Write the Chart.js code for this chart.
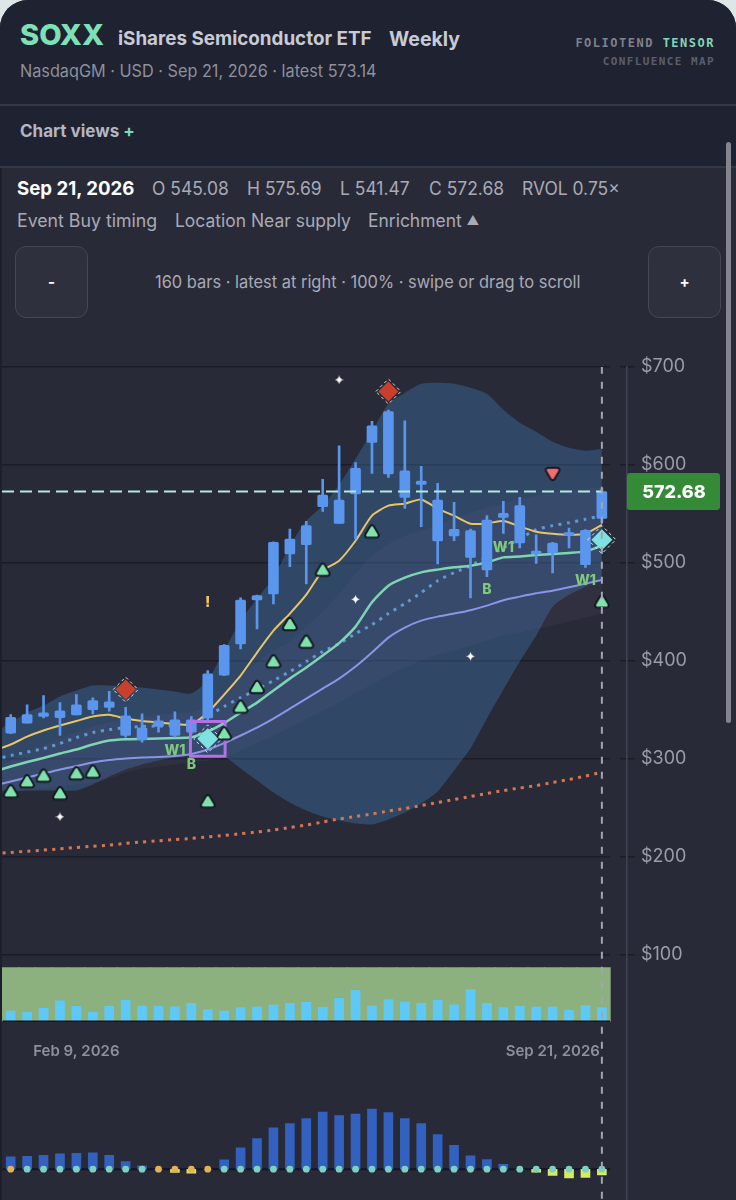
<!DOCTYPE html>
<html>
<head>
<meta charset="utf-8">
<title>SOXX Weekly</title>
<script src="https://cdn.jsdelivr.net/npm/chart.js@4/dist/chart.umd.min.js"></script>
<style>
  html, body { margin: 0; padding: 0; background: #dfe6e6; }
  #page { position: relative; width: 736px; height: 1200px; overflow: hidden; background: #282a38; border-radius: 28px 28px 0 0; font-family: Inter, sans-serif; }
  #top { position: absolute; left: 0; top: 0; width: 736px; height: 167px; background: #1f2230; }
  #edge { position: absolute; left: 0; top: 167px; width: 2px; height: 1033px; background: #1d1f2b; }
  .rule { position: absolute; left: 0; width: 736px; height: 2px; background: #33374a; }
  .t { position: absolute; white-space: nowrap; transform-origin: left center; }
  .mono { font-family: "DejaVu Sans Mono", monospace; font-weight: 700; text-align: right; right: 21px; }
  .stat { font-size: 18px; color: #a8aab6; top: 178px; transform: scaleX(.97); }
  .btn { position: absolute; top: 246px; width: 73px; height: 72px; box-sizing: border-box; background: #2e303e; border: 1.5px solid #454754; border-radius: 11px; color: #fff; font-weight: 700; font-size: 15px; line-height: 70px; text-align: center; }
  #scrollbar { position: absolute; left: 726px; top: 142px; width: 5px; height: 581px; border-radius: 3px; background: #83848f; }
  canvas { position: absolute; left: 0; top: 350px; }
</style>
</head>
<body>
<div id="page">
  <div id="top"></div>
  <div id="edge"></div>
  <div class="rule" style="top:104px"></div>
  <div class="rule" style="top:166px"></div>
  <span class="t" style="left:20px;top:17px;font-size:29px;font-weight:800;color:#7fe0b8">SOXX</span>
  <span class="t" style="left:118px;top:27px;font-size:19px;font-weight:700;color:#c8cad4;transform:scaleX(.99)">iShares Semiconductor ETF</span>
  <span class="t" style="left:389px;top:27px;font-size:19.5px;font-weight:700;color:#c8cad4">Weekly</span>
  <span class="t" style="left:20px;top:61px;font-size:17px;color:#8e909c;transform:scaleX(.955)">NasdaqGM · USD · Sep 21, 2026 · latest 573.14</span>
  <span class="t mono" style="top:36px;font-size:12px;letter-spacing:1.5px;color:#7f818d">FOLIOTEND <span style="color:#7fd8b8">TENSOR</span></span>
  <span class="t mono" style="top:55px;font-size:11px;letter-spacing:1.4px;color:#5c5e6c">CONFLUENCE MAP</span>
  <span class="t" style="left:20px;top:121px;font-size:17px;font-weight:700;color:#b4b6c2">Chart views <span style="color:#7fd8b8">+</span></span>
  <span class="t" style="left:17px;top:177px;font-size:19px;font-weight:700;color:#fff;transform:scaleX(.98)">Sep 21, 2026</span>
  <span class="t stat" style="left:152px">O 545.08</span>
  <span class="t stat" style="left:247px">H 575.69</span>
  <span class="t stat" style="left:340px">L 541.47</span>
  <span class="t stat" style="left:429px">C 572.68</span>
  <span class="t stat" style="left:522px">RVOL 0.75×</span>
  <span class="t stat" style="left:17px;top:210px;transform:scaleX(.985)">Event Buy timing</span>
  <span class="t stat" style="left:175px;top:210px">Location Near supply</span>
  <span class="t stat" style="left:368px;top:210px">Enrichment <span style="font-size:13px;position:relative;top:-2px">▲</span></span>
  <div class="btn" style="left:15px">-</div>
  <div class="btn" style="left:648px">+</div>
  <span class="t" style="left:155px;top:272px;font-size:17px;color:#a8aab6;transform:scaleX(.966)">160 bars · latest at right · 100% · swipe or drag to scroll</span>
  <div id="scrollbar"></div>
  <canvas id="myChart" width="736" height="867"></canvas>
</div>

<script>
// velas semanales
const opens = [325.8,336,342.9,341.8,344.6,350,352.3,323.5,319.1,332.7,323.5,326.8,341.5,385,417,461.9,468.1,508.9,518.4,557.1,540.1,570.1,622.8,590.5,566.6,579.9,522.1,527.2,505.4,492.6,546.2,520.1,508.9,509.9,527.6,498,545.08];
const closes = [342.1,344.9,346.6,348.7,354.8,359.2,357.9,343.6,331.3,338.5,339.5,339.5,386.4,415.6,461.9,466.3,520.7,524.2,537.8,569.1,564,596.2,639.8,654.4,593.9,583.4,564,534,532.7,543.6,550.3,558.2,511.9,520.1,530.6,533,572.68];
const highs = [344.9,354.8,364.3,357.1,365.3,361.9,368.7,352.3,345.6,343.6,347.7,342.9,389.8,416.3,464,467,521.4,534.4,542.1,585,619.4,602.3,644.2,655.8,644.9,598.3,580.9,561.5,534.4,548,562.6,566.6,528.3,520.7,535.4,533.7,575.69];
const lows = [325.5,336,341.5,323.5,344.6,345.6,348.3,321.7,316.6,326.8,321.7,325.5,338.8,384.7,411.9,432.3,457.9,495.9,478.3,552.3,540.1,524.2,591.1,587,555.4,536.7,498.7,522.4,464,485.7,529.9,515,499.3,489.5,515,495.2,541.47];

// lineas: el primer valor es la semana anterior a la primera vela, queda cortada por el borde
const fastLine = [308.2,314.3,322.4,328.6,333.7,338.3,342.9,344.6,340.8,338.3,336.7,335.2,334.7,346.9,365.3,384.7,408.2,430.6,448,467.3,491.8,502,522.4,548,558.2,560.2,564.6,555.1,548,539.8,540.1,542.6,537,531.6,529.6,528.6,529.6,538.5];
const midLine = [286.7,291.8,296.4,300.5,305.1,309.2,314.3,318.4,319.7,320.1,320.4,320.9,321.7,327.6,336.2,346.9,357.1,369.4,381.6,392.9,405.1,417.9,434.7,459.5,476.5,484.7,490.1,492.9,495.2,496.9,500.3,505.4,506.4,507.9,508.9,509.9,511.5,517.3];
const dottedLine = [299,303.1,306.6,310.2,315.3,321.4,326.5,329.6,331.6,332.7,333.2,333.7,335.7,343.9,353.1,362.2,370.4,379.6,388.8,399,409.2,417.3,427.6,436.7,448,458.2,469.4,481.6,489.8,496.9,506.1,515.3,524.5,533.7,537.8,540.8,544.4,548];
const slowLine = [272.4,276.5,280.6,284.7,288.8,292.3,295.9,298.5,300,301,301.5,302.6,304.6,309.2,315.8,323.5,331.6,340.8,351,361.2,371.4,381.6,393.9,408.2,423.5,433.7,440.8,444.9,448,451.5,456.1,461.7,465.3,468.7,471.4,474.8,478.6,482.3];
const longLine = [203,204.1,205.3,206.5,207.8,209.2,210.4,211.6,213.3,214.8,216,217.3,218.4,219.9,221.4,223.2,225,227,229.6,232.1,235.2,238.3,240.8,243.4,246.4,249,252,255.1,258.2,261.2,264.3,267.3,269.9,272.4,275.5,278.6,282.1,286.2];

// bandas
const outerTop = [325.5,336.7,346.9,354.1,363.3,369.4,374.5,374.5,373.5,372.4,370.4,368.4,366.3,379.6,410.2,440.8,463.3,484.7,517.3,542.9,558.2,579.6,606.1,633.7,662.2,673.5,682.7,683.7,682.7,678.6,672.4,656.1,642.9,633.7,623.5,617.3,614.3,616.3];
const outerBottom = [267.3,267.3,267.3,267.3,267.3,267.3,273.5,281.6,288.8,293.9,298,301,303.1,303.1,302,289.8,277.6,265.3,255.1,246.9,240.8,236.7,233.7,232.7,237.8,244.9,254.1,266.3,287.8,310.2,340.8,370.4,399,425.5,455.1,467.3,475.5,483.7];
const innerTop = [289.8,298,306.1,313.3,320.4,326.5,332.7,336.7,340.8,342.9,344.9,345.9,346.9,353.1,367.3,384.7,398,410.2,419.4,434.7,450,468.4,488.8,507.1,519.4,527.6,532.7,538.8,544.9,551,556.1,560.2,565.3,568.4,571.4,573.5,575.5,577.6];
const innerBottom = [263.3,265.3,267.3,269.4,271.4,273.5,275.5,279.6,285.7,289.8,291.8,293.9,295.9,298,301,308.2,316.3,323.5,331.6,340.8,349,357.1,367.3,375.5,384.7,392.9,400,406.1,410.2,415.3,420.4,425.5,428.6,432.7,435.7,439.8,443.9,448];

// volumen relativo y momentum
const rvol = [0.56,0.49,0.71,1.13,0.82,0.49,0.82,1.15,0.84,0.82,0.8,0.99,0.64,0.56,0.75,0.78,0.89,0.99,1.04,0.77,1.26,1.7,0.84,1.19,1.06,0.99,1.15,0.91,1.74,0.99,0.75,0.82,0.78,0.78,0.6,0.86,0.75];
const momentum = [1.23,1.3,1.4,1.53,1.6,1.63,1.4,0.77,0.33,0,-0.33,-0.4,0,0.93,2.13,3.07,4.13,4.57,5.07,5.73,5.37,5.53,6.03,5.67,5.07,4.57,3.47,2.4,1.33,0.97,0.5,0,-0.3,-0.63,-0.87,-0.83,-0.57];
const amberDots = [0,9,10,11,12];

// marcas
const buyMarks = [[0,266.6],[1,276.8],[2,282.7],[3,264.6],[4,285],[5,286.7],[12,256.4],[13,325.8],[14,353.1],[15,373.2],[16,399.3],[17,437.4],[18,419.4],[19,492.9],[22,532],[36,460.5]];
const sellMarks = [[33,590.5]];
const redDiamonds = [[7,370.4],[23,674.8]];
const cyanDiamonds = [[12,320.1],[36,523.5]];
const sparkles = [[20,686.7],[3,240.5],[21,462.6],[28,404.4]];
const boxMark = [[12,320.1]];
const textMarks = [[10,308.2,"W1"],[11,293.2,"B"],[30,515.6,"W1"],[29,472.1,"B"],[35,481.6,"W1"]];
const alertMarks = [[12,459.2,"!"]];
const dateLabels = [[4,"Feb 9, 2026","center"],[36,"Sep 21, 2026","right"]];
const priceTicks = [100,200,300,400,500,600,700];
const lastClose = 572.68;
const lastIndex = 36;

const toPoints = (values) => values.map((v, i) => ({ x: i, y: v }));
const toLinePoints = (values) => values.map((v, i) => ({ x: i - 1, y: v }));
const toMarks = (marks) => marks.map((m) => ({ x: m[0], y: m[1] }));

const bandStyle = { type: "line", borderWidth: 0, pointRadius: 0, tension: 0.2 };
const lineStyle = { type: "line", pointRadius: 0, tension: 0.2, fill: false };
const markStyle = { type: "line", showLine: false };

// sparkle blanco de cuatro puntas
function sparkleImage() {
  const c = document.createElement("canvas");
  c.width = 9;
  c.height = 9;
  const g = c.getContext("2d");
  g.fillStyle = "#ffffff";
  g.beginPath();
  g.moveTo(4.5, 0);
  g.quadraticCurveTo(5.2, 3.8, 9, 4.5);
  g.quadraticCurveTo(5.2, 5.2, 4.5, 9);
  g.quadraticCurveTo(3.8, 5.2, 0, 4.5);
  g.quadraticCurveTo(3.8, 3.8, 4.5, 0);
  g.fill();
  return c;
}

// triangulo de esquinas redondas con borde oscuro
function triangleImage(color, pointsDown) {
  const c = document.createElement("canvas");
  c.width = 20;
  c.height = 20;
  const g = c.getContext("2d");
  if (pointsDown) {
    g.translate(10, 10);
    g.rotate(Math.PI);
    g.translate(-10, -10);
  }
  g.lineJoin = "round";
  g.beginPath();
  g.moveTo(10, 6.2);
  g.lineTo(14.6, 14);
  g.lineTo(5.4, 14);
  g.closePath();
  g.strokeStyle = "#171a24";
  g.lineWidth = 6.5;
  g.stroke();
  g.strokeStyle = color;
  g.fillStyle = color;
  g.lineWidth = 2.5;
  g.stroke();
  g.fill();
  return c;
}

// puntos con borde punteado y textos sobre las escalas
const chartExtras = {
  id: "chartExtras",
  beforeDatasetDraw(chart, args) {
    const dash = chart.data.datasets[args.index].ringDash;
    if (dash) chart.ctx.setLineDash(dash);
  },
  afterDatasetDraw(chart) {
    chart.ctx.setLineDash([]);
  },
  afterDraw(chart) {
    const { ctx, scales } = chart;
    const x = scales.x;
    const y = scales.y;
    ctx.save();
    ctx.textBaseline = "middle";
    ctx.textAlign = "center";

    ctx.font = "800 14px Inter";
    ctx.fillStyle = "#7fc97c";
    textMarks.forEach((m) => ctx.fillText(m[2], x.getPixelForValue(m[0]), y.getPixelForValue(m[1])));

    ctx.font = "800 15px Inter";
    ctx.fillStyle = "#f0c463";
    alertMarks.forEach((m) => ctx.fillText(m[2], x.getPixelForValue(m[0]), y.getPixelForValue(m[1])));

    ctx.font = "600 15px Inter";
    ctx.fillStyle = "#8e909c";
    dateLabels.forEach((d) => {
      ctx.textAlign = d[2];
      ctx.fillText(d[1], x.getPixelForValue(d[0]) - (d[2] === "right" ? 2 : 0), scales.yVol.getPixelForValue(-1.64));
    });

    const tagY = y.getPixelForValue(lastClose);
    ctx.fillStyle = "#358a38";
    ctx.beginPath();
    ctx.roundRect(x.right, tagY - 18.5, 93, 37, 3);
    ctx.fill();
    ctx.font = "800 18px Inter";
    ctx.textAlign = "center";
    ctx.fillStyle = "#ffffff";
    ctx.fillText(lastClose.toFixed(2), x.right + 47, tagY + 1);
    ctx.restore();
  },
};

const ctx = document.getElementById("myChart").getContext("2d");
new Chart(ctx, {
  type: "bar",
  data: {
    datasets: [
      // paneles de abajo
      { type: "bar", data: toPoints(rvol.map(() => 2.96)), yAxisID: "yVol", backgroundColor: "#8db07f", barThickness: 17, order: 40 },
      { type: "bar", data: toPoints(rvol), yAxisID: "yVol", backgroundColor: "#5ec9f7", barThickness: 9, order: 39 },
      { type: "line", data: [{ x: -0.5, y: 0 }, { x: 36.5, y: 0 }], yAxisID: "yVol", borderColor: "#14151f", borderWidth: 1.5, pointRadius: 0, order: 38 },
      { type: "line", data: [{ x: -0.5, y: 0 }, { x: 36.5, y: 0 }], yAxisID: "yMom", borderColor: "#14151f", borderWidth: 2, pointRadius: 0, order: 38 },
      {
        type: "bar", data: toPoints(momentum), yAxisID: "yMom", barThickness: 9, order: 37,
        backgroundColor: momentum.map((v, i) => (v >= 0 ? "#3261bf" : i < 20 ? "#e4d65e" : "#d6ec5a")),
      },
      {
        ...markStyle, data: toPoints(momentum.map(() => 0)), yAxisID: "yMom", order: 36,
        pointRadius: 3.4, pointBorderWidth: 0,
        pointBackgroundColor: momentum.map((v, i) => (amberDots.includes(i) ? "#e0b354" : "#7dd1c2")),
      },

      // bandas
      { ...bandStyle, data: toLinePoints(outerTop), fill: "+1", backgroundColor: "rgba(65,125,184,0.36)", order: 35 },
      { ...bandStyle, data: toLinePoints(outerBottom), fill: false, order: 34 },
      { ...bandStyle, data: toLinePoints(innerTop), fill: "+1", backgroundColor: "rgba(130,110,170,0.09)", order: 33 },
      { ...bandStyle, data: toLinePoints(innerBottom), fill: false, order: 32 },

      // lineas
      { ...lineStyle, data: toLinePoints(longLine), borderColor: "#d9764f", borderWidth: 3, borderDash: [3, 5.3], order: 31 },
      { ...lineStyle, data: toLinePoints(slowLine), borderColor: "#8d94e8", borderWidth: 2, order: 30 },
      { ...lineStyle, data: toLinePoints(dottedLine), borderColor: "#5f9ad2", borderWidth: 3, borderDash: [3, 5.5], order: 29 },
      { ...lineStyle, data: toLinePoints(midLine), borderColor: "#7ed5b4", borderWidth: 2.5, order: 28 },
      { ...lineStyle, data: toLinePoints(fastLine), borderColor: "#e8c56a", borderWidth: 2, order: 27 },

      // velas
      { type: "bar", data: lows.map((v, i) => ({ x: i, y: [v, highs[i]] })), backgroundColor: "#5b96ee", barThickness: 2, order: 26 },
      { type: "bar", data: opens.map((v, i) => ({ x: i, y: [v, closes[i]] })), backgroundColor: "#5b96ee", barThickness: 10, borderRadius: 1.5, borderSkipped: false, order: 25 },

      // marcas
      { ...markStyle, data: toMarks(boxMark), pointStyle: "rect", pointRadius: 24.5, pointBorderWidth: 3, pointBorderColor: "#b072e6", pointBackgroundColor: "rgba(0,0,0,0)", order: 24 },
      { ...markStyle, data: toMarks(buyMarks), pointStyle: triangleImage("#7fe4ab", false), order: 20 },
      { ...markStyle, data: toMarks(sellMarks), pointStyle: triangleImage("#f26d6d", true), order: 20 },
      { ...markStyle, data: toMarks(redDiamonds), ringDash: [3, 3], pointStyle: "rectRot", pointRadius: 12.5, pointBorderWidth: 1, pointBorderColor: "#e6e2dc", pointBackgroundColor: "rgba(0,0,0,0)", order: 19 },
      { ...markStyle, data: toMarks(redDiamonds), pointStyle: "rectRot", pointRadius: 10, pointBorderWidth: 0, pointBackgroundColor: "#c8402c", order: 18 },
      { ...markStyle, data: toMarks(cyanDiamonds), ringDash: [3, 3], pointStyle: "rectRot", pointRadius: 14, pointBorderWidth: 1, pointBorderColor: "#d8e8e8", pointBackgroundColor: "rgba(0,0,0,0)", order: 17 },
      { ...markStyle, data: toMarks(cyanDiamonds), pointStyle: "rectRot", pointRadius: 10.5, pointBorderWidth: 0, pointBackgroundColor: "#7fe2e2", order: 16 },
      { ...markStyle, data: toMarks(sparkles), pointStyle: sparkleImage(), order: 15 },

      // guias del ultimo valor
      { type: "line", data: [{ x: -0.53, y: lastClose }, { x: lastIndex, y: lastClose }], borderColor: "#b4e8e0", borderWidth: 2, borderDash: [12, 6], pointRadius: 0, order: 5 },
      { type: "line", data: [{ x: lastIndex, y: 700 }, { x: lastIndex, y: -151 }], borderColor: "#a3a5b0", borderWidth: 2, borderDash: [7, 8], pointRadius: 0, order: 4 },
    ],
  },
  options: {
    responsive: false,
    animation: false,
    layout: { autoPadding: false, padding: { left: 2, top: 16, right: 0, bottom: 0 } },
    datasets: { bar: { grouped: false } },
    plugins: {
      legend: { display: false },
      title: { display: false },
      tooltip: { enabled: false },
    },
    scales: {
      x: { type: "linear", display: false, offset: false, min: -0.53, max: 37.53 },
      y: {
        position: "right",
        min: -151,
        max: 700,
        afterBuildTicks: (scale) => {
          scale.ticks = priceTicks.map((v) => ({ value: v }));
        },
        afterFit: (scale) => {
          scale.width = 109;
        },
        ticks: {
          color: "#9a9ca8",
          padding: 6,
          font: { family: "Inter", size: 18 },
          callback: (v) => "$" + v,
        },
        border: { color: "#3f4250", width: 1.5, dash: [608, 10, 30] },
        grid: { color: "#1b1c28", lineWidth: 1.5, tickLength: 8, tickColor: "#1b1c28", drawOnChartArea: true },
      },
      yVol: { display: false, min: -9.835, max: 35.99 },
      yMom: { display: false, min: -3.1, max: 80.3 },
    },
  },
  plugins: [chartExtras],
});
</script>
</body>
</html>
